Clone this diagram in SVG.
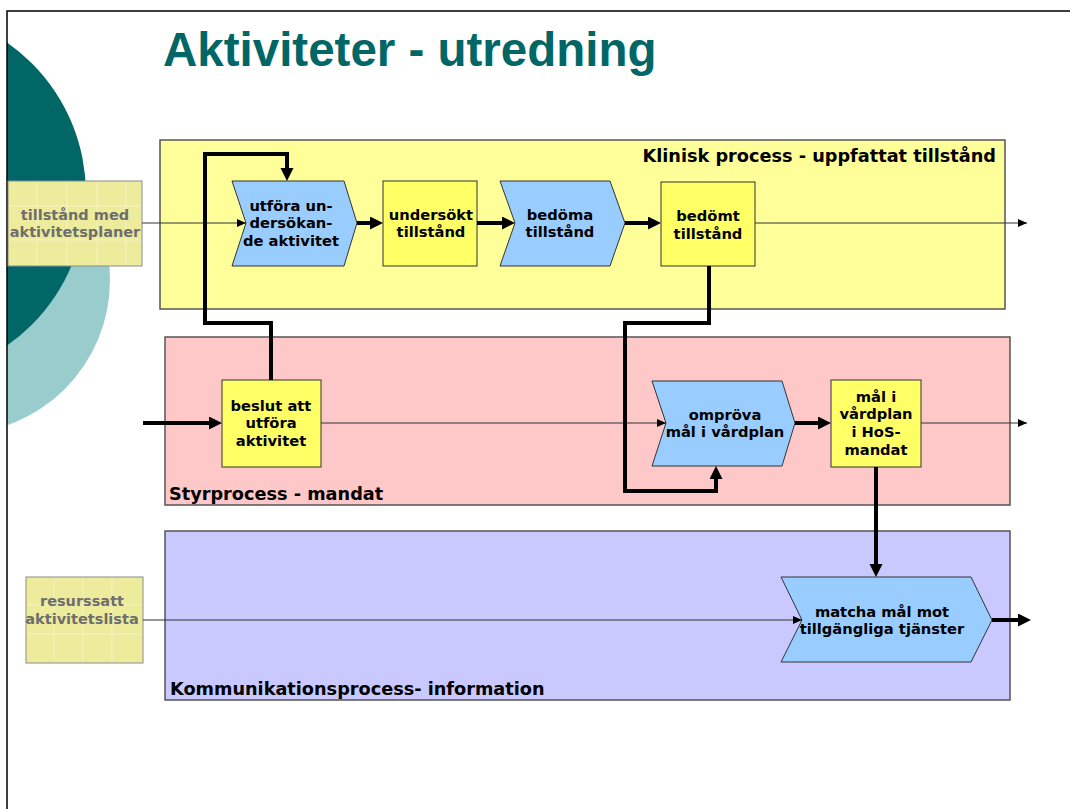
<svg xmlns="http://www.w3.org/2000/svg" width="1070" height="809" viewBox="0 0 1070 809">
  <style>
    .title { font-family: "Liberation Sans", Arial, sans-serif; font-weight: bold; font-size: 47.5px; fill: #006666; }
    .lane { stroke: #555; stroke-width: 1.5; }
    .lanelabel { font-family: "DejaVu Sans", Verdana, sans-serif; font-weight: bold; font-size: 17.7px; fill: #000; }
    .state { fill: #FFFF66; stroke: #333; stroke-width: 1; }
    .func { fill: #99CCFF; stroke: #333; stroke-width: 1; }
    .ext { fill: #EDEB9C; stroke: #8c8c8c; stroke-width: 1; }
    .grid { stroke: #F6F4C4; stroke-width: 1; }
    .t { font-family: "DejaVu Sans", Verdana, sans-serif; font-weight: bold; font-size: 14.7px; fill: #000; text-anchor: middle; }
    .tg { font-family: "DejaVu Sans", Verdana, sans-serif; font-weight: bold; font-size: 14.5px; fill: #6E6E6E; text-anchor: middle; }
    .thick { fill: none; stroke: #000; stroke-width: 4; stroke-linejoin: miter; }
    .thin { fill: none; stroke: #333; stroke-width: 1.2; }
  </style>
  <defs>
    <marker id="bigArrow" markerUnits="userSpaceOnUse" markerWidth="14" markerHeight="14" refX="5" refY="6.5" orient="auto">
      <path d="M0,0 L13,6.5 L0,13 z" fill="#000"/>
    </marker>
    <marker id="smallArrow" markerUnits="userSpaceOnUse" markerWidth="10" markerHeight="10" refX="9" refY="4" orient="auto">
      <path d="M0,0 L9,4 L0,8 z" fill="#000"/>
    </marker>
    <clipPath id="page">
      <rect x="7" y="11" width="1063" height="798"/>
    </clipPath>
  </defs>

  <rect x="0" y="0" width="1070" height="809" fill="#fff"/>

  <!-- decorative circles on the left edge -->
  <g id="decor" clip-path="url(#page)">
    <circle cx="-44" cy="280" r="154" fill="#99CCCC"/>
    <circle cx="-99" cy="194" r="185" fill="#006666"/>
  </g>

  <!-- page frame -->
  <path d="M7,809 V11 H1070" fill="none" stroke="#000" stroke-width="1.5"/>

  <text class="title" x="163" y="66">Aktiviteter - utredning</text>

  <!-- swimlanes -->
  <g id="lane-klinisk">
    <rect class="lane" x="160" y="140" width="845" height="169" fill="#FFFF99"/>
    <text class="lanelabel" x="996" y="162" text-anchor="end">Klinisk process - uppfattat tillstånd</text>
  </g>
  <g id="lane-styr">
    <rect class="lane" x="165" y="337" width="845" height="168" fill="#FFC8C8"/>
    <text class="lanelabel" x="169" y="500">Styrprocess - mandat</text>
  </g>
  <g id="lane-kommunikation">
    <rect class="lane" x="165" y="531" width="845" height="169" fill="#C9C9FF"/>
    <text class="lanelabel" x="170" y="695">Kommunikationsprocess- information</text>
  </g>

  <!-- external inputs -->
  <g id="in-tillstand">
    <rect class="ext" x="8" y="181" width="134" height="85"/>
    <path class="grid" d="M37,182 V265 M67,182 V265 M97,182 V265 M126,182 V265 M9,206 H141 M9,240 H141"/>
    <text class="tg" x="75" y="220">tillstånd med</text>
    <text class="tg" x="75" y="237">aktivitetsplaner</text>
  </g>
  <g id="in-resurssatt">
    <rect class="ext" x="26" y="577" width="117" height="86"/>
    <path class="grid" d="M54,578 V662 M83,578 V662 M112,578 V662 M27,605 H142 M27,634 H142"/>
    <text class="tg" x="82" y="606">resurssatt</text>
    <text class="tg" x="82" y="624">aktivitetslista</text>
  </g>

  <!-- process nodes -->
  <g id="n-utfora">
    <polygon class="func" points="232,181 344,181 357,223 344,266 232,266 246,223"/>
    <text class="t" x="291" y="211">utföra un-</text>
    <text class="t" x="291" y="228">dersökan-</text>
    <text class="t" x="291" y="246">de aktivitet</text>
  </g>
  <g id="n-undersokt">
    <rect class="state" x="383" y="181" width="94" height="85"/>
    <text class="t" x="431" y="220">undersökt</text>
    <text class="t" x="431" y="237">tillstånd</text>
  </g>
  <g id="n-bedoma">
    <polygon class="func" points="500,181 610,181 625,223 610,266 500,266 515,223"/>
    <text class="t" x="560" y="220">bedöma</text>
    <text class="t" x="560" y="237">tillstånd</text>
  </g>
  <g id="n-bedomt">
    <rect class="state" x="661" y="182" width="94" height="84"/>
    <text class="t" x="708" y="221">bedömt</text>
    <text class="t" x="708" y="239">tillstånd</text>
  </g>
  <g id="n-beslut">
    <rect class="state" x="222" y="380" width="99" height="87"/>
    <text class="t" x="271" y="411">beslut att</text>
    <text class="t" x="271" y="428">utföra</text>
    <text class="t" x="271" y="446">aktivitet</text>
  </g>
  <g id="n-omprova">
    <polygon class="func" points="652,381 782,381 795,423 782,466 652,466 666,423"/>
    <text class="t" x="725" y="420">ompröva</text>
    <text class="t" x="725" y="437">mål i vårdplan</text>
  </g>
  <g id="n-mal">
    <rect class="state" x="831" y="380" width="90" height="87"/>
    <text class="t" x="876" y="402">mål i</text>
    <text class="t" x="876" y="419">vårdplan</text>
    <text class="t" x="876" y="437">i HoS-</text>
    <text class="t" x="876" y="455">mandat</text>
  </g>
  <g id="n-matcha">
    <polygon class="func" points="781,577 971,577 992,620 971,662 781,662 802,620"/>
    <text class="t" x="882" y="617">matcha mål mot</text>
    <text class="t" x="882" y="634">tillgängliga tjänster</text>
  </g>

  <!-- connectors -->
  <g id="connectors">
    <path class="thin" d="M142,223 H246" marker-end="url(#smallArrow)"/>
    <path class="thin" d="M755,223 H1027" marker-end="url(#smallArrow)"/>
    <path class="thin" d="M321,423 H666" marker-end="url(#smallArrow)"/>
    <path class="thin" d="M921,423 H1027" marker-end="url(#smallArrow)"/>
    <path class="thin" d="M143,620 H802" marker-end="url(#smallArrow)"/>

    <path class="thick" d="M271,380 V323 H205 V154 H287 V173" marker-end="url(#bigArrow)"/>
    <path class="thick" d="M709,266 V323 H625 V491 H716 V474" marker-end="url(#bigArrow)"/>
    <path class="thick" d="M143,423 H214" marker-end="url(#bigArrow)"/>
    <path class="thick" d="M357,223 H375" marker-end="url(#bigArrow)"/>
    <path class="thick" d="M477,223 H507" marker-end="url(#bigArrow)"/>
    <path class="thick" d="M625,223 H653" marker-end="url(#bigArrow)"/>
    <path class="thick" d="M795,423 H823" marker-end="url(#bigArrow)"/>
    <path class="thick" d="M876,467 V569" marker-end="url(#bigArrow)"/>
    <path class="thick" d="M992,620 H1023" marker-end="url(#bigArrow)"/>
  </g>
</svg>
